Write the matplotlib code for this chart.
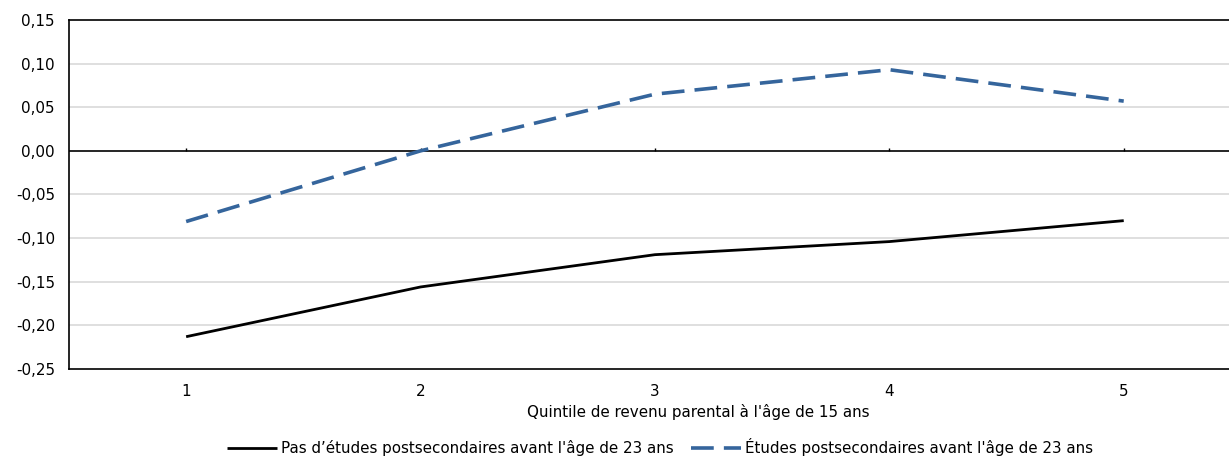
import matplotlib.pyplot as plt
from matplotlib.ticker import FuncFormatter

# Data
quintiles = [1, 2, 3, 4, 5]
no_postsec = [-0.213, -0.156, -0.119, -0.104, -0.080]
postsec = [-0.081, 0.000, 0.065, 0.093, 0.057]

label_no = "Pas d\u2019études postsecondaires avant l'âge de 23 ans"
label_yes = "Études postsecondaires avant l'âge de 23 ans"
x_title = "Quintile de revenu parental à l'âge de 15 ans"
y_ticks = [-0.25, -0.20, -0.15, -0.10, -0.05, 0.00, 0.05, 0.10, 0.15]

plt.rcParams['font.family'] = ['DejaVu Sans']
fs = 10.9

fig = plt.figure(figsize=(12.29, 4.57), dpi=100)
ax = fig.add_axes([0.0561, 0.1926, 0.9536, 0.7637])

# Gridlines
for v in y_ticks:
    if v not in (0.0, -0.25, 0.15):
        ax.axhline(v, color='#d9d9d9', lw=1.2, zorder=0)
ax.axhline(0, color='black', lw=1.2, zorder=1)
ax.vlines(quintiles, 0, 0.0035, color='black', lw=1.0, zorder=1)

ax.plot(quintiles, no_postsec, color='black', lw=2.0, label=label_no,
        solid_capstyle='butt', zorder=3)
ax.plot(quintiles, postsec, color='#35659c', lw=2.6, label=label_yes,
        dashes=(6.3, 2.8), zorder=3)

ax.set_xlim(0.5, 5.5)
ax.set_ylim(-0.25, 0.15)
ax.set_yticks(y_ticks)
ax.yaxis.set_major_formatter(FuncFormatter(lambda v, p: f"{v:.2f}".replace('.', ',')))
ax.set_xticks(quintiles)
ax.tick_params(axis='both', length=0, labelsize=fs, colors='black')
ax.tick_params(axis='y', pad=10)
ax.tick_params(axis='x', pad=11)

for side in ['left', 'bottom', 'top']:
    ax.spines[side].set_linewidth(1.2)
ax.spines['right'].set_visible(False)

fig.text(0.568, 0.098, x_title, ha='center', va='center', fontsize=fs)

fig.legend(loc='center', bbox_to_anchor=(0.537, 0.022), ncol=2, frameon=False,
           handlelength=3.3, handletextpad=0.3, columnspacing=1.1, fontsize=fs)

fig.savefig('out.png', dpi=100)
